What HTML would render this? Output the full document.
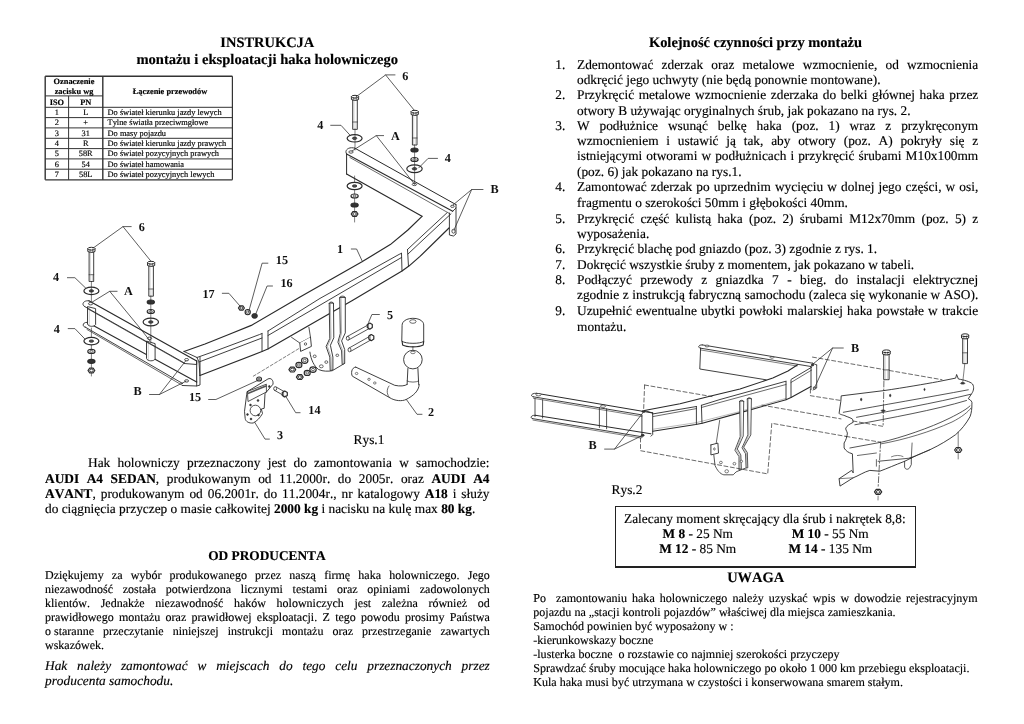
<!DOCTYPE html>
<html><head><meta charset="utf-8"><style>
html,body{margin:0;padding:0;background:#fff;}
body{width:1024px;height:724px;position:relative;overflow:hidden;font-family:"Liberation Serif",serif;color:#000;filter:grayscale(1);font-kerning:none;text-rendering:geometricPrecision;}
.t{position:absolute;white-space:nowrap;-webkit-text-stroke:0.15px #000;}
.abs{position:absolute;left:0;top:0;}
</style></head><body>
<svg class="abs" width="1024" height="724" viewBox="0 0 1024 724"><path d="M184.0,351.5 L205.0,344.0 L230.0,334.0 L251.3,325.4 L300.0,297.0 L362.0,261.7 L390.3,244.6 L407.9,230.0 L422.0,216.4" fill="none" stroke="#2a2a2a" stroke-width="1.2" stroke-linejoin="round" stroke-linecap="round"/><path d="M197.0,357.5 L218.1,350.0 L259.6,334.5 L262.0,333.5" fill="none" stroke="#2a2a2a" stroke-width="0.9" stroke-linejoin="round" stroke-linecap="round"/><path d="M268.0,331.0 L320.0,298.4 L399.1,254.4 L401.5,253.3" fill="none" stroke="#2a2a2a" stroke-width="0.9" stroke-linejoin="round" stroke-linecap="round"/><path d="M407.5,249.5 L420.0,237.8 L447.0,212.8" fill="none" stroke="#2a2a2a" stroke-width="0.9" stroke-linejoin="round" stroke-linecap="round"/><path d="M199.0,362.0 L262.0,338.0" fill="none" stroke="#2a2a2a" stroke-width="0.9" stroke-linejoin="round" stroke-linecap="round"/><path d="M268.0,335.5 L328.8,300.0 L401.5,257.5" fill="none" stroke="#2a2a2a" stroke-width="0.9" stroke-linejoin="round" stroke-linecap="round"/><path d="M408.0,254.0 L420.0,242.7 L451.0,213.8" fill="none" stroke="#2a2a2a" stroke-width="0.9" stroke-linejoin="round" stroke-linecap="round"/><path d="M199.9,375.5 L262.0,351.5 L267.9,349.0 L353.2,300.0 L402.0,271.0 L408.9,266.1 L420.0,256.4 L449.0,228.0" fill="none" stroke="#2a2a2a" stroke-width="1.2" stroke-linejoin="round" stroke-linecap="round"/><path d="M262.0,333.5 L262.0,351.5" fill="none" stroke="#2a2a2a" stroke-width="0.9" stroke-linejoin="round" stroke-linecap="round"/><path d="M268.0,331.0 L268.0,349.0" fill="none" stroke="#2a2a2a" stroke-width="0.9" stroke-linejoin="round" stroke-linecap="round"/><path d="M401.5,253.3 L402.0,271.0" fill="none" stroke="#2a2a2a" stroke-width="0.9" stroke-linejoin="round" stroke-linecap="round"/><path d="M407.5,249.5 L408.5,266.5" fill="none" stroke="#2a2a2a" stroke-width="0.9" stroke-linejoin="round" stroke-linecap="round"/><path d="M184.0,351.5 L197.0,357.5 L199.0,362.0 L199.9,375.5" fill="none" stroke="#2a2a2a" stroke-width="0.9" stroke-linejoin="round" stroke-linecap="round"/><path d="M87.3,322.3 L196.7,382.0" fill="none" stroke="#2a2a2a" stroke-width="1.1" stroke-linejoin="round" stroke-linecap="round"/><path d="M85.6,327.3 L182.6,383.5" fill="none" stroke="#2a2a2a" stroke-width="0.9" stroke-linejoin="round" stroke-linecap="round"/><path d="M87.0,329.5 L182.6,385.5" fill="none" stroke="#2a2a2a" stroke-width="0.7" stroke-linejoin="round" stroke-linecap="round"/><path d="M87.3,322.3 C82,322 82,327 85.6,327.3" fill="none" stroke="#2a2a2a" stroke-width="0.9" stroke-linejoin="round" stroke-linecap="round"/><path d="M196.7,382.0 L196.7,386.0 L182.6,385.5" fill="none" stroke="#2a2a2a" stroke-width="0.9" stroke-linejoin="round" stroke-linecap="round"/><path d="M87.5,307 L87.5,324 C88.5,327 94.5,327 95.6,324.5 L95.6,309 Z" fill="#fff" stroke="#2a2a2a" stroke-width="0.9" stroke-linejoin="round" stroke-linecap="round"/><path d="M146.5,341.5 L146.5,358.5 C147.5,361.5 154,361.5 155.1,359 L155.1,344 Z" fill="#fff" stroke="#2a2a2a" stroke-width="0.9" stroke-linejoin="round" stroke-linecap="round"/><path d="M89.3,308.0 L89.3,325.2" fill="none" stroke="#888" stroke-width="0.4" stroke-linejoin="round" stroke-linecap="round"/><path d="M148.3,342.5 L148.3,359.8" fill="none" stroke="#888" stroke-width="0.4" stroke-linejoin="round" stroke-linecap="round"/><path d="M88.9,300.8 L196.7,361.0" fill="none" stroke="#2a2a2a" stroke-width="1.2" stroke-linejoin="round" stroke-linecap="round"/><path d="M84.8,306.6 L183.5,362.5" fill="none" stroke="#2a2a2a" stroke-width="0.9" stroke-linejoin="round" stroke-linecap="round"/><path d="M88.1,309.0 L184.3,363.5" fill="none" stroke="#2a2a2a" stroke-width="0.7" stroke-linejoin="round" stroke-linecap="round"/><path d="M88.9,300.8 C83,300 81,305 84.8,306.6" fill="none" stroke="#2a2a2a" stroke-width="0.9" stroke-linejoin="round" stroke-linecap="round"/><path d="M196.7,361.0 L196.7,364.5 L184.3,363.5" fill="none" stroke="#2a2a2a" stroke-width="0.9" stroke-linejoin="round" stroke-linecap="round"/><path d="M196.7,361.0 L196.7,382.0" fill="none" stroke="#2a2a2a" stroke-width="1.0" stroke-linejoin="round" stroke-linecap="round"/><path d="M200.0,357.0 L200.0,385.0 L196.7,386.0" fill="none" stroke="#2a2a2a" stroke-width="0.9" stroke-linejoin="round" stroke-linecap="round"/><ellipse cx="186.6" cy="359.7" rx="2.0" ry="1.2" fill="#fff" stroke="#2a2a2a" stroke-width="0.8"/><ellipse cx="186.6" cy="380.9" rx="2.0" ry="1.2" fill="#fff" stroke="#2a2a2a" stroke-width="0.8"/><ellipse cx="90.6" cy="303.7" rx="2.2" ry="1.2" fill="#fff" stroke="#2a2a2a" stroke-width="0.8"/><ellipse cx="149.5" cy="338.3" rx="2.2" ry="1.2" fill="#fff" stroke="#2a2a2a" stroke-width="0.8"/><path d="M89.1,251.5 L89.1,281.5 L93.7,281.5 L93.7,251.5" fill="#fff" stroke="#2a2a2a" stroke-width="0.9" stroke-linejoin="round" stroke-linecap="round"/><path d="M87.8,248.7 L87.8,251.5 L90.1,252.3 L92.7,252.3 L95.0,251.5 L95.0,248.7" fill="#fff" stroke="#2a2a2a" stroke-width="1.0" stroke-linejoin="round" stroke-linecap="round"/><ellipse cx="91.4" cy="248.7" rx="3.6" ry="1.4" fill="#fff" stroke="#2a2a2a" stroke-width="1.0"/><path d="M90.1,249.5 L90.1,252.3" fill="none" stroke="#2a2a2a" stroke-width="0.6" stroke-linejoin="round" stroke-linecap="round"/><path d="M92.7,249.5 L92.7,252.3" fill="none" stroke="#2a2a2a" stroke-width="0.6" stroke-linejoin="round" stroke-linecap="round"/><path d="M89.1,274.7 L93.7,274.7" fill="none" stroke="#2a2a2a" stroke-width="0.7" stroke-linejoin="round" stroke-linecap="round"/><path d="M90.4,274.7 L90.4,281.5" fill="none" stroke="#888" stroke-width="0.4" stroke-linejoin="round" stroke-linecap="round"/><path d="M92.4,274.7 L92.4,281.5" fill="none" stroke="#888" stroke-width="0.4" stroke-linejoin="round" stroke-linecap="round"/><path d="M90.4,252.5 L90.4,274.7" fill="none" stroke="#999" stroke-width="0.4" stroke-linejoin="round" stroke-linecap="round"/><ellipse cx="91.4" cy="290.9" rx="7.5" ry="3.7" fill="#fff" stroke="#2a2a2a" stroke-width="1.2"/><ellipse cx="91.4" cy="290.9" rx="2.2" ry="1.2" fill="#555" stroke="#2a2a2a" stroke-width="0.8"/><path d="M91.4,281.5 L91.4,302.0" fill="none" stroke="#2a2a2a" stroke-width="0.6" stroke-linejoin="round" stroke-linecap="round"/><path d="M148.8,265.5 L148.8,296.2 L153.4,296.2 L153.4,265.5" fill="#fff" stroke="#2a2a2a" stroke-width="0.9" stroke-linejoin="round" stroke-linecap="round"/><path d="M147.5,262.7 L147.5,265.5 L149.8,266.3 L152.4,266.3 L154.7,265.5 L154.7,262.7" fill="#fff" stroke="#2a2a2a" stroke-width="1.0" stroke-linejoin="round" stroke-linecap="round"/><ellipse cx="151.1" cy="262.7" rx="3.6" ry="1.4" fill="#fff" stroke="#2a2a2a" stroke-width="1.0"/><path d="M149.8,263.5 L149.8,266.3" fill="none" stroke="#2a2a2a" stroke-width="0.6" stroke-linejoin="round" stroke-linecap="round"/><path d="M152.4,263.5 L152.4,266.3" fill="none" stroke="#2a2a2a" stroke-width="0.6" stroke-linejoin="round" stroke-linecap="round"/><path d="M148.8,289.0 L153.4,289.0" fill="none" stroke="#2a2a2a" stroke-width="0.7" stroke-linejoin="round" stroke-linecap="round"/><path d="M150.1,289.0 L150.1,296.2" fill="none" stroke="#888" stroke-width="0.4" stroke-linejoin="round" stroke-linecap="round"/><path d="M152.1,289.0 L152.1,296.2" fill="none" stroke="#888" stroke-width="0.4" stroke-linejoin="round" stroke-linecap="round"/><path d="M150.1,266.5 L150.1,289.0" fill="none" stroke="#999" stroke-width="0.4" stroke-linejoin="round" stroke-linecap="round"/><ellipse cx="150.8" cy="302.0" rx="3.6" ry="2.0" fill="#333" stroke="#2a2a2a" stroke-width="1.15"/><ellipse cx="150.8" cy="311.5" rx="3.6" ry="2.0" fill="#fff" stroke="#2a2a2a" stroke-width="1.15"/><ellipse cx="150.8" cy="311.5" rx="1.6" ry="0.9" fill="#fff" stroke="#2a2a2a" stroke-width="0.7"/><ellipse cx="150.8" cy="322.0" rx="7.7" ry="3.9" fill="#fff" stroke="#2a2a2a" stroke-width="1.2"/><ellipse cx="150.8" cy="322.0" rx="2.3" ry="1.2" fill="#555" stroke="#2a2a2a" stroke-width="0.8"/><path d="M150.8,296.0 L150.8,342.0" fill="none" stroke="#2a2a2a" stroke-width="0.6" stroke-linejoin="round" stroke-linecap="round"/><path d="M91.4,328.0 L91.4,376.0" fill="none" stroke="#2a2a2a" stroke-width="0.6" stroke-linejoin="round" stroke-linecap="round"/><ellipse cx="91.4" cy="341.1" rx="7.5" ry="3.7" fill="#fff" stroke="#2a2a2a" stroke-width="1.2"/><ellipse cx="91.4" cy="341.1" rx="2.2" ry="1.2" fill="#555" stroke="#2a2a2a" stroke-width="0.8"/><ellipse cx="91.4" cy="351.4" rx="3.6" ry="2.0" fill="#fff" stroke="#2a2a2a" stroke-width="1.15"/><ellipse cx="91.4" cy="351.4" rx="1.6" ry="0.9" fill="#fff" stroke="#2a2a2a" stroke-width="0.7"/><ellipse cx="91.4" cy="361.3" rx="3.6" ry="2.0" fill="#333" stroke="#2a2a2a" stroke-width="1.15"/><path d="M94.8,370.5 L93.1,372.9 L89.7,372.9 L88.0,370.5 L89.7,368.1 L93.1,368.1 L94.8,370.5" fill="#fff" stroke="#2a2a2a" stroke-width="1.2" stroke-linejoin="round" stroke-linecap="round"/><ellipse cx="91.4" cy="370.5" rx="1.7" ry="1.4" fill="#fff" stroke="#2a2a2a" stroke-width="0.9"/><text x="141.7" y="230.5" font-family="Liberation Serif" font-weight="bold" font-size="12.2" text-anchor="middle" fill="#111">6</text><path d="M131.2,226.6 L123.0,226.6 L93.1,248.1" fill="none" stroke="#333" stroke-width="0.8" stroke-linejoin="round" stroke-linecap="round"/><path d="M123.0,226.6 L151.1,261.4" fill="none" stroke="#333" stroke-width="0.8" stroke-linejoin="round" stroke-linecap="round"/><text x="56.1" y="281.3" font-family="Liberation Serif" font-weight="bold" font-size="12.2" text-anchor="middle" fill="#111">4</text><path d="M67.4,277.7 L74.9,277.7 L85.6,288.0" fill="none" stroke="#333" stroke-width="0.8" stroke-linejoin="round" stroke-linecap="round"/><text x="128.4" y="294.8" font-family="Liberation Serif" font-weight="bold" font-size="12.2" text-anchor="middle" fill="#111">A</text><path d="M117.1,291.3 L109.7,291.3 L92.3,302.0" fill="none" stroke="#333" stroke-width="0.8" stroke-linejoin="round" stroke-linecap="round"/><path d="M109.7,291.3 L140.4,328.6 L150.0,341.0" fill="none" stroke="#333" stroke-width="0.8" stroke-linejoin="round" stroke-linecap="round"/><text x="56.9" y="332.6" font-family="Liberation Serif" font-weight="bold" font-size="12.2" text-anchor="middle" fill="#111">4</text><path d="M68.2,328.6 L74.9,328.6 L84.8,338.9" fill="none" stroke="#333" stroke-width="0.8" stroke-linejoin="round" stroke-linecap="round"/><text x="137.6" y="395.0" font-family="Liberation Serif" font-weight="bold" font-size="12.2" text-anchor="middle" fill="#111">B</text><path d="M149.5,394.5 L159.4,394.5 L186.0,360.5" fill="none" stroke="#333" stroke-width="0.8" stroke-linejoin="round" stroke-linecap="round"/><path d="M159.4,394.5 L186.0,381.2" fill="none" stroke="#333" stroke-width="0.8" stroke-linejoin="round" stroke-linecap="round"/><path d="M354.9,148.2 L456.0,204.6" fill="none" stroke="#2a2a2a" stroke-width="1.0" stroke-linejoin="round" stroke-linecap="round"/><path d="M346.6,154.0 L452.7,211.3" fill="none" stroke="#2a2a2a" stroke-width="1.1" stroke-linejoin="round" stroke-linecap="round"/><path d="M349.9,157.5 L449.4,213.5" fill="none" stroke="#2a2a2a" stroke-width="0.7" stroke-linejoin="round" stroke-linecap="round"/><path d="M354.9,148.2 C348,146 344,151 346.6,154" fill="none" stroke="#2a2a2a" stroke-width="0.9" stroke-linejoin="round" stroke-linecap="round"/><path d="M346.6,154.0 L346.6,174.0" fill="none" stroke="#2a2a2a" stroke-width="1.0" stroke-linejoin="round" stroke-linecap="round"/><path d="M346.6,174.0 L422.0,216.2" fill="none" stroke="#2a2a2a" stroke-width="1.2" stroke-linejoin="round" stroke-linecap="round"/><path d="M456.0,204.6 L456.0,208.0 L452.7,211.3" fill="none" stroke="#2a2a2a" stroke-width="0.9" stroke-linejoin="round" stroke-linecap="round"/><path d="M449.4,213.0 L449.4,235.0 L453.5,236.0 L456.0,234.0 L456.0,208.0" fill="none" stroke="#2a2a2a" stroke-width="0.9" stroke-linejoin="round" stroke-linecap="round"/><ellipse cx="452.4" cy="206.3" rx="1.8" ry="1.1" fill="#fff" stroke="#2a2a2a" stroke-width="0.8"/><ellipse cx="453.5" cy="231.2" rx="1.6" ry="2.0" fill="#fff" stroke="#2a2a2a" stroke-width="0.8"/><ellipse cx="351.0" cy="152.0" rx="2.2" ry="1.2" fill="#fff" stroke="#2a2a2a" stroke-width="0.8"/><ellipse cx="414.4" cy="184.4" rx="2.2" ry="1.2" fill="#fff" stroke="#2a2a2a" stroke-width="0.8"/><path d="M352.7,99.5 L352.7,129.4 L357.3,129.4 L357.3,99.5" fill="#fff" stroke="#2a2a2a" stroke-width="0.9" stroke-linejoin="round" stroke-linecap="round"/><path d="M351.4,96.7 L351.4,99.5 L353.7,100.3 L356.3,100.3 L358.6,99.5 L358.6,96.7" fill="#fff" stroke="#2a2a2a" stroke-width="1.0" stroke-linejoin="round" stroke-linecap="round"/><ellipse cx="355.0" cy="96.7" rx="3.6" ry="1.4" fill="#fff" stroke="#2a2a2a" stroke-width="1.0"/><path d="M353.7,97.5 L353.7,100.3" fill="none" stroke="#2a2a2a" stroke-width="0.6" stroke-linejoin="round" stroke-linecap="round"/><path d="M356.3,97.5 L356.3,100.3" fill="none" stroke="#2a2a2a" stroke-width="0.6" stroke-linejoin="round" stroke-linecap="round"/><path d="M352.7,122.0 L357.3,122.0" fill="none" stroke="#2a2a2a" stroke-width="0.7" stroke-linejoin="round" stroke-linecap="round"/><path d="M354.0,122.0 L354.0,129.4" fill="none" stroke="#888" stroke-width="0.4" stroke-linejoin="round" stroke-linecap="round"/><path d="M356.0,122.0 L356.0,129.4" fill="none" stroke="#888" stroke-width="0.4" stroke-linejoin="round" stroke-linecap="round"/><path d="M354.0,100.5 L354.0,122.0" fill="none" stroke="#999" stroke-width="0.4" stroke-linejoin="round" stroke-linecap="round"/><ellipse cx="354.6" cy="138.3" rx="7.5" ry="3.7" fill="#fff" stroke="#2a2a2a" stroke-width="1.2"/><ellipse cx="354.6" cy="138.3" rx="2.2" ry="1.2" fill="#555" stroke="#2a2a2a" stroke-width="0.8"/><path d="M355.0,129.0 L355.0,150.0" fill="none" stroke="#2a2a2a" stroke-width="0.6" stroke-linejoin="round" stroke-linecap="round"/><path d="M412.4,114.5 L412.4,145.0 L417.0,145.0 L417.0,114.5" fill="#fff" stroke="#2a2a2a" stroke-width="0.9" stroke-linejoin="round" stroke-linecap="round"/><path d="M411.1,111.7 L411.1,114.5 L413.4,115.3 L416.0,115.3 L418.3,114.5 L418.3,111.7" fill="#fff" stroke="#2a2a2a" stroke-width="1.0" stroke-linejoin="round" stroke-linecap="round"/><ellipse cx="414.7" cy="111.7" rx="3.6" ry="1.4" fill="#fff" stroke="#2a2a2a" stroke-width="1.0"/><path d="M413.4,112.5 L413.4,115.3" fill="none" stroke="#2a2a2a" stroke-width="0.6" stroke-linejoin="round" stroke-linecap="round"/><path d="M416.0,112.5 L416.0,115.3" fill="none" stroke="#2a2a2a" stroke-width="0.6" stroke-linejoin="round" stroke-linecap="round"/><path d="M412.4,138.0 L417.0,138.0" fill="none" stroke="#2a2a2a" stroke-width="0.7" stroke-linejoin="round" stroke-linecap="round"/><path d="M413.7,138.0 L413.7,145.0" fill="none" stroke="#888" stroke-width="0.4" stroke-linejoin="round" stroke-linecap="round"/><path d="M415.7,138.0 L415.7,145.0" fill="none" stroke="#888" stroke-width="0.4" stroke-linejoin="round" stroke-linecap="round"/><path d="M413.7,115.5 L413.7,138.0" fill="none" stroke="#999" stroke-width="0.4" stroke-linejoin="round" stroke-linecap="round"/><ellipse cx="414.5" cy="150.0" rx="3.6" ry="2.0" fill="#333" stroke="#2a2a2a" stroke-width="1.15"/><ellipse cx="414.5" cy="159.5" rx="3.6" ry="2.0" fill="#fff" stroke="#2a2a2a" stroke-width="1.15"/><ellipse cx="414.5" cy="159.5" rx="1.6" ry="0.9" fill="#fff" stroke="#2a2a2a" stroke-width="0.7"/><ellipse cx="414.5" cy="168.8" rx="7.7" ry="3.9" fill="#fff" stroke="#2a2a2a" stroke-width="1.2"/><ellipse cx="414.5" cy="168.8" rx="2.3" ry="1.2" fill="#555" stroke="#2a2a2a" stroke-width="0.8"/><path d="M414.6,145.0 L414.6,184.0" fill="none" stroke="#2a2a2a" stroke-width="0.6" stroke-linejoin="round" stroke-linecap="round"/><path d="M354.6,176.0 L354.6,222.0" fill="none" stroke="#2a2a2a" stroke-width="0.6" stroke-linejoin="round" stroke-linecap="round"/><ellipse cx="354.6" cy="186.0" rx="7.5" ry="3.7" fill="#fff" stroke="#2a2a2a" stroke-width="1.2"/><ellipse cx="354.6" cy="186.0" rx="2.2" ry="1.2" fill="#555" stroke="#2a2a2a" stroke-width="0.8"/><ellipse cx="354.6" cy="196.0" rx="3.6" ry="2.0" fill="#fff" stroke="#2a2a2a" stroke-width="1.15"/><ellipse cx="354.6" cy="196.0" rx="1.6" ry="0.9" fill="#fff" stroke="#2a2a2a" stroke-width="0.7"/><ellipse cx="354.6" cy="205.0" rx="3.6" ry="2.0" fill="#333" stroke="#2a2a2a" stroke-width="1.15"/><path d="M358.0,214.0 L356.3,216.4 L352.9,216.4 L351.2,214.0 L352.9,211.6 L356.3,211.6 L358.0,214.0" fill="#fff" stroke="#2a2a2a" stroke-width="1.2" stroke-linejoin="round" stroke-linecap="round"/><ellipse cx="354.6" cy="214.0" rx="1.7" ry="1.4" fill="#fff" stroke="#2a2a2a" stroke-width="0.9"/><text x="405.3" y="79.7" font-family="Liberation Serif" font-weight="bold" font-size="12.2" text-anchor="middle" fill="#111">6</text><path d="M395.0,74.9 L385.6,74.9 L356.0,96.9" fill="none" stroke="#333" stroke-width="0.8" stroke-linejoin="round" stroke-linecap="round"/><path d="M385.6,74.9 L414.7,110.8" fill="none" stroke="#333" stroke-width="0.8" stroke-linejoin="round" stroke-linecap="round"/><text x="320.2" y="128.9" font-family="Liberation Serif" font-weight="bold" font-size="12.2" text-anchor="middle" fill="#111">4</text><path d="M330.7,125.3 L341.0,125.3 L350.4,135.6" fill="none" stroke="#333" stroke-width="0.8" stroke-linejoin="round" stroke-linecap="round"/><text x="395.4" y="139.6" font-family="Liberation Serif" font-weight="bold" font-size="12.2" text-anchor="middle" fill="#111">A</text><path d="M383.6,135.6 L376.3,135.6 L352.0,151.0" fill="none" stroke="#333" stroke-width="0.8" stroke-linejoin="round" stroke-linecap="round"/><path d="M376.3,135.6 L414.7,184.4" fill="none" stroke="#333" stroke-width="0.8" stroke-linejoin="round" stroke-linecap="round"/><text x="447.7" y="162.2" font-family="Liberation Serif" font-weight="bold" font-size="12.2" text-anchor="middle" fill="#111">4</text><path d="M437.5,158.4 L428.1,158.4 L418.8,167.8" fill="none" stroke="#333" stroke-width="0.8" stroke-linejoin="round" stroke-linecap="round"/><text x="494.5" y="193.2" font-family="Liberation Serif" font-weight="bold" font-size="12.2" text-anchor="middle" fill="#111">B</text><path d="M483.0,189.5 L471.7,189.5 L453.0,205.0" fill="none" stroke="#333" stroke-width="0.8" stroke-linejoin="round" stroke-linecap="round"/><path d="M471.7,189.5 L454.0,230.0" fill="none" stroke="#333" stroke-width="0.8" stroke-linejoin="round" stroke-linecap="round"/><text x="340.0" y="253.4" font-family="Liberation Serif" font-weight="bold" font-size="12.2" text-anchor="middle" fill="#111">1</text><path d="M351.3,249.0 L356.6,249.0 L362.5,261.7" fill="none" stroke="#333" stroke-width="0.8" stroke-linejoin="round" stroke-linecap="round"/><path d="M244.4,308.0 L242.9,310.1 L239.9,310.1 L238.4,308.0 L239.9,305.9 L242.9,305.9 L244.4,308.0" fill="#fff" stroke="#2a2a2a" stroke-width="1.2" stroke-linejoin="round" stroke-linecap="round"/><ellipse cx="241.4" cy="308.0" rx="1.5" ry="1.2" fill="#fff" stroke="#2a2a2a" stroke-width="0.9"/><ellipse cx="247.7" cy="312.1" rx="2.6" ry="2.6" fill="#fff" stroke="#2a2a2a" stroke-width="1.15"/><ellipse cx="247.7" cy="312.1" rx="1.2" ry="1.2" fill="#fff" stroke="#2a2a2a" stroke-width="0.7"/><ellipse cx="254.6" cy="315.9" rx="2.8" ry="2.4" fill="#333" stroke="#2a2a2a" stroke-width="0.9"/><text x="281.9" y="263.8" font-family="Liberation Serif" font-weight="bold" font-size="12.2" text-anchor="middle" fill="#111">15</text><path d="M267.9,263.2 L262.1,263.2 L248.8,311.3" fill="none" stroke="#333" stroke-width="0.8" stroke-linejoin="round" stroke-linecap="round"/><text x="286.5" y="286.9" font-family="Liberation Serif" font-weight="bold" font-size="12.2" text-anchor="middle" fill="#111">16</text><path d="M272.5,286.0 L267.1,286.0 L255.5,314.6" fill="none" stroke="#333" stroke-width="0.8" stroke-linejoin="round" stroke-linecap="round"/><text x="208.6" y="297.7" font-family="Liberation Serif" font-weight="bold" font-size="12.2" text-anchor="middle" fill="#111">17</text><path d="M222.3,293.3 L228.9,293.3 L240.5,306.6" fill="none" stroke="#333" stroke-width="0.8" stroke-linejoin="round" stroke-linecap="round"/><path d="M309.9,352.1 C311,360 314,366 318.6,369.5 C323,371.5 328,371.5 332.3,370.7 L344.7,363.3" fill="none" stroke="#2a2a2a" stroke-width="0.9" stroke-linejoin="round" stroke-linecap="round"/><path d="M329.2,303.5 L329.8,338.4 L326.1,346.5 L329.8,357.1 L330.2,370.5 L332.9,370.0 L332.9,357.1 L330.4,345.3 L333.8,337.8 L333.5,303.5 Z" fill="#fff" stroke="#2a2a2a" stroke-width="0.9" stroke-linejoin="round" stroke-linecap="round"/><path d="M329.2,303.5 C329.5,301.5 333.2,301.5 333.5,303.5" fill="none" stroke="#2a2a2a" stroke-width="0.9" stroke-linejoin="round" stroke-linecap="round"/><path d="M330.4,304.0 L331.0,338.2 L327.4,346.4 L331.0,357.0 L331.4,369.5" fill="none" stroke="#666" stroke-width="0.5" stroke-linejoin="round" stroke-linecap="round"/><path d="M339.7,297.8 L340.3,333.5 L337.9,342.2 L341.6,350.9 L342.2,364.5 L344.7,363.3 L344.7,349.6 L341.6,340.9 L345.3,332.9 L345.3,297.8 Z" fill="#fff" stroke="#2a2a2a" stroke-width="0.9" stroke-linejoin="round" stroke-linecap="round"/><path d="M339.7,297.8 C340,295.5 345,295.5 345.3,297.8" fill="none" stroke="#2a2a2a" stroke-width="0.9" stroke-linejoin="round" stroke-linecap="round"/><path d="M341.0,298.5 L341.5,333.3 L339.2,342.0 L342.8,350.7 L343.3,363.8" fill="none" stroke="#666" stroke-width="0.5" stroke-linejoin="round" stroke-linecap="round"/><ellipse cx="321.3" cy="366.3" rx="1.9" ry="1.5" fill="#fff" stroke="#2a2a2a" stroke-width="0.7"/><ellipse cx="326.3" cy="362.1" rx="1.5" ry="1.3" fill="#fff" stroke="#2a2a2a" stroke-width="0.7"/><ellipse cx="314.7" cy="356.3" rx="1.5" ry="1.3" fill="#fff" stroke="#2a2a2a" stroke-width="0.7"/><ellipse cx="337.3" cy="355.3" rx="1.4" ry="1.2" fill="#fff" stroke="#2a2a2a" stroke-width="0.7"/><path d="M291.5,337.3 L299.8,343.0 L310.5,337.3 L308.9,327.3" fill="none" stroke="#2a2a2a" stroke-width="0.8" stroke-linejoin="round" stroke-linecap="round"/><path d="M299.8,343.0 L300.6,351.4 L311.4,346.4 L310.5,337.3" fill="#fff" stroke="#2a2a2a" stroke-width="0.9" stroke-linejoin="round" stroke-linecap="round"/><ellipse cx="305.5" cy="344.0" rx="1.2" ry="1.2" fill="#fff" stroke="#2a2a2a" stroke-width="0.7"/><path d="M295.7,369.6 L294.0,372.0 L290.6,372.0 L288.9,369.6 L290.6,367.2 L294.0,367.2 L295.7,369.6" fill="#fff" stroke="#2a2a2a" stroke-width="1.2" stroke-linejoin="round" stroke-linecap="round"/><ellipse cx="292.3" cy="369.6" rx="1.7" ry="1.4" fill="#fff" stroke="#2a2a2a" stroke-width="0.9"/><ellipse cx="298.9" cy="365.0" rx="3.0" ry="2.6" fill="#fff" stroke="#2a2a2a" stroke-width="1.15"/><ellipse cx="298.9" cy="365.0" rx="1.4" ry="1.2" fill="#fff" stroke="#2a2a2a" stroke-width="0.7"/><ellipse cx="304.7" cy="360.5" rx="3.2" ry="2.8" fill="#fff" stroke="#2a2a2a" stroke-width="1.15"/><ellipse cx="304.7" cy="360.5" rx="1.4" ry="1.3" fill="#fff" stroke="#2a2a2a" stroke-width="0.7"/><path d="M303.2,377.1 L301.5,379.5 L298.1,379.5 L296.4,377.1 L298.1,374.7 L301.5,374.7 L303.2,377.1" fill="#fff" stroke="#2a2a2a" stroke-width="1.2" stroke-linejoin="round" stroke-linecap="round"/><ellipse cx="299.8" cy="377.1" rx="1.7" ry="1.4" fill="#fff" stroke="#2a2a2a" stroke-width="0.9"/><ellipse cx="307.2" cy="372.9" rx="3.0" ry="2.6" fill="#fff" stroke="#2a2a2a" stroke-width="1.15"/><ellipse cx="307.2" cy="372.9" rx="1.4" ry="1.2" fill="#fff" stroke="#2a2a2a" stroke-width="0.7"/><ellipse cx="313.0" cy="369.6" rx="3.2" ry="2.8" fill="#fff" stroke="#2a2a2a" stroke-width="1.15"/><ellipse cx="313.0" cy="369.6" rx="1.4" ry="1.3" fill="#fff" stroke="#2a2a2a" stroke-width="0.7"/><path d="M348.7,339.9 L369.4,328.4" fill="none" stroke="#2a2a2a" stroke-width="0.8" stroke-linejoin="round" stroke-linecap="round"/><path d="M346.9,336.7 L367.6,325.2" fill="none" stroke="#2a2a2a" stroke-width="0.8" stroke-linejoin="round" stroke-linecap="round"/><ellipse cx="347.8" cy="338.3" rx="1.5" ry="1.9" fill="#fff" stroke="#2a2a2a" stroke-width="0.8"/><path d="M372.3,327.6 L369.8,329.2 L367.3,327.6 L367.3,324.5 L369.8,323.0 L372.3,324.5 L372.3,327.6" fill="#fff" stroke="#2a2a2a" stroke-width="1.2" stroke-linejoin="round" stroke-linecap="round"/><path d="M368.6,323.3 L368.6,328.9" fill="none" stroke="#2a2a2a" stroke-width="0.6" stroke-linejoin="round" stroke-linecap="round"/><path d="M350.4,351.5 L370.9,339.9" fill="none" stroke="#2a2a2a" stroke-width="0.8" stroke-linejoin="round" stroke-linecap="round"/><path d="M348.6,348.3 L369.1,336.7" fill="none" stroke="#2a2a2a" stroke-width="0.8" stroke-linejoin="round" stroke-linecap="round"/><ellipse cx="349.5" cy="349.9" rx="1.5" ry="1.9" fill="#fff" stroke="#2a2a2a" stroke-width="0.8"/><path d="M373.8,339.1 L371.3,340.7 L368.8,339.1 L368.8,336.0 L371.3,334.5 L373.8,336.0 L373.8,339.1" fill="#fff" stroke="#2a2a2a" stroke-width="1.2" stroke-linejoin="round" stroke-linecap="round"/><path d="M370.1,334.8 L370.1,340.4" fill="none" stroke="#2a2a2a" stroke-width="0.6" stroke-linejoin="round" stroke-linecap="round"/><text x="390.1" y="319.0" font-family="Liberation Serif" font-weight="bold" font-size="12.2" text-anchor="middle" fill="#111">5</text><path d="M379.4,314.5 L371.9,314.5 L368.6,322.3" fill="none" stroke="#333" stroke-width="0.8" stroke-linejoin="round" stroke-linecap="round"/><path d="M253.3,376.2 L299.8,348.0" fill="none" stroke="#2a2a2a" stroke-width="0.6" stroke-dasharray="3,2" stroke-linejoin="round" stroke-linecap="round"/><path d="M402.1,325 C402,316 423.7,316 423.7,325 L423.7,341.4 C420,344 406,344 402.1,341.4 Z" fill="#fff" stroke="#2a2a2a" stroke-width="0.9" stroke-linejoin="round" stroke-linecap="round"/><ellipse cx="412.9" cy="321.5" rx="3.2" ry="1.8" fill="#fff" stroke="#2a2a2a" stroke-width="0.7"/><path d="M402.1,341.4 L402.6,345 C407,347.5 419,347.5 423.2,345 L423.7,341.4" fill="none" stroke="#2a2a2a" stroke-width="1.1" stroke-linejoin="round" stroke-linecap="round"/><path d="M412.9,346.4 L412.9,351.0" fill="none" stroke="#2a2a2a" stroke-width="0.6" stroke-linejoin="round" stroke-linecap="round"/><circle cx="412.9" cy="359.6" r="9.3" fill="#fff" stroke="#2a2a2a" stroke-width="0.9"/><ellipse cx="412.9" cy="352.5" rx="2.2" ry="1.2" fill="#fff" stroke="#2a2a2a" stroke-width="0.6"/><path d="M407.9,368.5 L407.1,384.5 M417.9,368.5 L418.7,384.5" fill="none" stroke="#2a2a2a" stroke-width="0.9" stroke-linejoin="round" stroke-linecap="round"/><path d="M407.1,381 C410,382.5 416,382.5 418.7,381" fill="none" stroke="#2a2a2a" stroke-width="0.7" stroke-linejoin="round" stroke-linecap="round"/><path d="M355.7,367.1 L394.7,385.3 C400,386.5 405,386 407.1,384.5" fill="none" stroke="#2a2a2a" stroke-width="0.9" stroke-linejoin="round" stroke-linecap="round"/><path d="M355.7,367.1 C351,367.5 351,374 352.4,376.2 L389.7,397.7 C395,401 402,401.5 406.3,399.4 C413,396 419,391 419.2,384.5" fill="none" stroke="#2a2a2a" stroke-width="0.9" stroke-linejoin="round" stroke-linecap="round"/><path d="M389,386 C386,390 387,395 389.7,397.7" fill="none" stroke="#2a2a2a" stroke-width="0.7" stroke-linejoin="round" stroke-linecap="round"/><ellipse cx="356.6" cy="373.5" rx="1.3" ry="1.1" fill="#fff" stroke="#2a2a2a" stroke-width="0.6"/><ellipse cx="369.0" cy="379.3" rx="1.3" ry="1.1" fill="#fff" stroke="#2a2a2a" stroke-width="0.6"/><ellipse cx="374.8" cy="383.0" rx="1.3" ry="1.1" fill="#fff" stroke="#2a2a2a" stroke-width="0.6"/><text x="431.1" y="415.5" font-family="Liberation Serif" font-weight="bold" font-size="12.2" text-anchor="middle" fill="#111">2</text><path d="M422.0,414.3 L417.0,414.3 L406.3,399.4" fill="none" stroke="#333" stroke-width="0.8" stroke-linejoin="round" stroke-linecap="round"/><path d="M247.4,391.5 L267.9,379 C271,377.5 273.5,380 273,384.2 L265,393.7 L264.2,408.3 L261.3,409 L262.5,413.5 C260,418 257,421 253.2,423 C249,423.5 245.5,421.5 245.2,418.5 L244.5,411.3 L246.6,395.2 Z" fill="#fff" stroke="#2a2a2a" stroke-width="0.9" stroke-linejoin="round" stroke-linecap="round"/><path d="M247.4,391.5 L266.4,384.2 L266.4,392.0 L248.0,401.5 L247.4,391.5" fill="none" stroke="#2a2a2a" stroke-width="0.8" stroke-linejoin="round" stroke-linecap="round"/><path d="M247.8,393.5 L266.0,386.0" fill="none" stroke="#555" stroke-width="1.6" stroke-linejoin="round" stroke-linecap="round"/><circle cx="255.4" cy="410.5" r="5.3" fill="#fff" stroke="#2a2a2a" stroke-width="0.8"/><ellipse cx="269.3" cy="386.5" rx="0.9" ry="0.9" fill="#333" stroke="#2a2a2a" stroke-width="0.6"/><ellipse cx="258.0" cy="400.5" rx="0.9" ry="0.9" fill="#333" stroke="#2a2a2a" stroke-width="0.6"/><ellipse cx="250.5" cy="405.0" rx="0.9" ry="0.9" fill="#333" stroke="#2a2a2a" stroke-width="0.6"/><ellipse cx="247.5" cy="414.5" rx="0.9" ry="0.9" fill="#333" stroke="#2a2a2a" stroke-width="0.6"/><ellipse cx="251.0" cy="419.0" rx="0.9" ry="0.9" fill="#333" stroke="#2a2a2a" stroke-width="0.6"/><ellipse cx="258.5" cy="415.0" rx="0.9" ry="0.9" fill="#333" stroke="#2a2a2a" stroke-width="0.6"/><text x="280.0" y="439.1" font-family="Liberation Serif" font-weight="bold" font-size="12.2" text-anchor="middle" fill="#111">3</text><path d="M269.4,439.1 L265.0,439.1 L254.7,422.3" fill="none" stroke="#333" stroke-width="0.8" stroke-linejoin="round" stroke-linecap="round"/><ellipse cx="259.1" cy="379.0" rx="2.4" ry="2.0" fill="#fff" stroke="#2a2a2a" stroke-width="1.15"/><ellipse cx="259.1" cy="379.0" rx="1.1" ry="0.9" fill="#fff" stroke="#2a2a2a" stroke-width="0.7"/><text x="195.0" y="400.7" font-family="Liberation Serif" font-weight="bold" font-size="12.2" text-anchor="middle" fill="#111">15</text><path d="M208.6,399.5 L215.9,399.5 L257.6,380.5" fill="none" stroke="#333" stroke-width="0.8" stroke-linejoin="round" stroke-linecap="round"/><path d="M274.3,390.2 L282.6,394.9" fill="none" stroke="#2a2a2a" stroke-width="0.8" stroke-linejoin="round" stroke-linecap="round"/><path d="M276.1,387.0 L284.4,391.7" fill="none" stroke="#2a2a2a" stroke-width="0.8" stroke-linejoin="round" stroke-linecap="round"/><ellipse cx="275.2" cy="388.6" rx="1.5" ry="1.9" fill="#fff" stroke="#2a2a2a" stroke-width="0.8"/><path d="M287.3,395.6 L284.8,397.1 L282.3,395.6 L282.3,392.5 L284.8,390.9 L287.3,392.5 L287.3,395.6" fill="#fff" stroke="#2a2a2a" stroke-width="1.2" stroke-linejoin="round" stroke-linecap="round"/><path d="M283.6,391.2 L283.6,396.8" fill="none" stroke="#2a2a2a" stroke-width="0.6" stroke-linejoin="round" stroke-linecap="round"/><text x="314.4" y="413.5" font-family="Liberation Serif" font-weight="bold" font-size="12.2" text-anchor="middle" fill="#111">14</text><path d="M300.1,412.7 L295.7,412.7 L285.5,395.9" fill="none" stroke="#333" stroke-width="0.8" stroke-linejoin="round" stroke-linecap="round"/><path d="M536.6,393.3 L652.7,413.0" fill="none" stroke="#2a2a2a" stroke-width="1.0" stroke-linejoin="round" stroke-linecap="round"/><path d="M533.3,396.8 L641.9,414.9" fill="none" stroke="#2a2a2a" stroke-width="0.9" stroke-linejoin="round" stroke-linecap="round"/><path d="M533.5,398.3 L641.9,416.5" fill="none" stroke="#2a2a2a" stroke-width="0.6" stroke-linejoin="round" stroke-linecap="round"/><path d="M536.6,393.3 C531,392.8 530,396.5 533.3,396.8" fill="none" stroke="#2a2a2a" stroke-width="0.9" stroke-linejoin="round" stroke-linecap="round"/><path d="M535.5,415.3 L651.0,433.8" fill="none" stroke="#2a2a2a" stroke-width="1.0" stroke-linejoin="round" stroke-linecap="round"/><path d="M532.4,418.6 L641.0,436.6" fill="none" stroke="#2a2a2a" stroke-width="0.9" stroke-linejoin="round" stroke-linecap="round"/><path d="M533.0,420.1 L641.0,438.1" fill="none" stroke="#2a2a2a" stroke-width="0.6" stroke-linejoin="round" stroke-linecap="round"/><path d="M535.5,415.3 C530.5,414.8 530,418.3 532.4,418.6" fill="none" stroke="#2a2a2a" stroke-width="0.9" stroke-linejoin="round" stroke-linecap="round"/><path d="M535.0,398.5 L535.0,416.5" fill="none" stroke="#2a2a2a" stroke-width="0.8" stroke-linejoin="round" stroke-linecap="round"/><path d="M542.6,399.8 L542.6,418.0" fill="none" stroke="#2a2a2a" stroke-width="0.8" stroke-linejoin="round" stroke-linecap="round"/><path d="M599.4,407.5 L599.4,427.5" fill="none" stroke="#2a2a2a" stroke-width="0.8" stroke-linejoin="round" stroke-linecap="round"/><path d="M606.6,408.8 L606.6,428.8" fill="none" stroke="#2a2a2a" stroke-width="0.8" stroke-linejoin="round" stroke-linecap="round"/><ellipse cx="538.5" cy="394.7" rx="2.6" ry="1.2" fill="#fff" stroke="#2a2a2a" stroke-width="0.7"/><ellipse cx="603.0" cy="406.2" rx="2.6" ry="1.2" fill="#fff" stroke="#2a2a2a" stroke-width="0.7"/><path d="M641.9,415.4 L641.9,437.5" fill="none" stroke="#2a2a2a" stroke-width="0.9" stroke-linejoin="round" stroke-linecap="round"/><path d="M652.7,413.0 L652.7,434.5 L651.0,436.2" fill="none" stroke="#2a2a2a" stroke-width="0.9" stroke-linejoin="round" stroke-linecap="round"/><path d="M644.4,410.5 L652.7,413.0" fill="none" stroke="#2a2a2a" stroke-width="0.9" stroke-linejoin="round" stroke-linecap="round"/><ellipse cx="643.5" cy="411.5" rx="1.5" ry="1.0" fill="#333" stroke="#2a2a2a" stroke-width="0.8"/><ellipse cx="642.7" cy="435.3" rx="1.5" ry="1.0" fill="#333" stroke="#2a2a2a" stroke-width="0.8"/><path d="M644.4,410.5 L680.0,403.8 L709.8,396.3 L740.0,389.0 L772.8,378.1 L788.0,371.0 L797.6,364.8" fill="none" stroke="#2a2a2a" stroke-width="1.1" stroke-linejoin="round" stroke-linecap="round"/><path d="M652.4,414.0 L696.4,406.5" fill="none" stroke="#2a2a2a" stroke-width="0.9" stroke-linejoin="round" stroke-linecap="round"/><path d="M701.4,405.3 L720.0,399.5 L786.0,381.2" fill="none" stroke="#2a2a2a" stroke-width="0.9" stroke-linejoin="round" stroke-linecap="round"/><path d="M791.0,379.5 L811.7,367.2" fill="none" stroke="#2a2a2a" stroke-width="0.9" stroke-linejoin="round" stroke-linecap="round"/><path d="M653.3,416.5 L696.4,408.6" fill="none" stroke="#2a2a2a" stroke-width="0.7" stroke-linejoin="round" stroke-linecap="round"/><path d="M701.4,407.5 L720.0,402.4 L786.0,384.5" fill="none" stroke="#2a2a2a" stroke-width="0.7" stroke-linejoin="round" stroke-linecap="round"/><path d="M791.0,382.5 L811.7,370.0" fill="none" stroke="#2a2a2a" stroke-width="0.7" stroke-linejoin="round" stroke-linecap="round"/><path d="M653.3,429.2 L696.4,422.6 L739.6,411.6 L786.0,398.4" fill="none" stroke="#777" stroke-width="0.5" stroke-linejoin="round" stroke-linecap="round"/><path d="M652.7,431.2 L695.7,424.5 L702.3,423.3 L739.6,412.9 L786.0,399.7 L791.0,397.5 L811.0,386.4" fill="none" stroke="#2a2a2a" stroke-width="1.1" stroke-linejoin="round" stroke-linecap="round"/><path d="M696.4,406.5 L696.4,424.2" fill="none" stroke="#2a2a2a" stroke-width="0.9" stroke-linejoin="round" stroke-linecap="round"/><path d="M701.4,405.3 L702.0,423.3" fill="none" stroke="#2a2a2a" stroke-width="0.9" stroke-linejoin="round" stroke-linecap="round"/><path d="M786.0,381.5 L786.0,399.7" fill="none" stroke="#2a2a2a" stroke-width="0.9" stroke-linejoin="round" stroke-linecap="round"/><path d="M791.0,380.5 L791.0,397.5" fill="none" stroke="#2a2a2a" stroke-width="0.9" stroke-linejoin="round" stroke-linecap="round"/><path d="M702.3,344.9 L812.6,363.2" fill="none" stroke="#2a2a2a" stroke-width="0.9" stroke-linejoin="round" stroke-linecap="round"/><path d="M700.6,348.2 L810.9,366.5" fill="none" stroke="#2a2a2a" stroke-width="0.9" stroke-linejoin="round" stroke-linecap="round"/><path d="M701.0,350.0 L797.0,366.0" fill="none" stroke="#2a2a2a" stroke-width="0.6" stroke-linejoin="round" stroke-linecap="round"/><path d="M702.3,344.9 C698,344.5 697.5,348 700.6,348.2" fill="none" stroke="#2a2a2a" stroke-width="0.9" stroke-linejoin="round" stroke-linecap="round"/><path d="M700.6,348.2 L699.8,369.0 L766.1,379.8" fill="none" stroke="#2a2a2a" stroke-width="0.9" stroke-linejoin="round" stroke-linecap="round"/><path d="M811.0,366.5 L811.0,389.7" fill="none" stroke="#2a2a2a" stroke-width="0.9" stroke-linejoin="round" stroke-linecap="round"/><path d="M816.7,365.0 L816.7,388.0 L813.0,390.0" fill="none" stroke="#2a2a2a" stroke-width="0.8" stroke-linejoin="round" stroke-linecap="round"/><path d="M812.6,363.2 L816.7,365.0" fill="none" stroke="#2a2a2a" stroke-width="0.8" stroke-linejoin="round" stroke-linecap="round"/><ellipse cx="707.0" cy="346.0" rx="2.0" ry="0.9" fill="#fff" stroke="#2a2a2a" stroke-width="0.7"/><ellipse cx="772.0" cy="357.3" rx="2.0" ry="0.9" fill="#fff" stroke="#2a2a2a" stroke-width="0.7"/><ellipse cx="812.5" cy="365.0" rx="1.3" ry="0.9" fill="#333" stroke="#2a2a2a" stroke-width="0.8"/><ellipse cx="814.5" cy="388.0" rx="1.3" ry="1.2" fill="#fff" stroke="#2a2a2a" stroke-width="0.8"/><path d="M713.8,454.9 L715,465.4 C717,470 720,474 723.8,474.8 L733.2,474.8 L736.1,471.9 L740.2,470.1 L746.5,467.8" fill="none" stroke="#2a2a2a" stroke-width="0.8" stroke-linejoin="round" stroke-linecap="round"/><path d="M739.6,401.5 L740.2,436.7 L734.9,450.2 L739.0,456.6 L739.0,470.1 L741.4,469.5 L740.8,454.9 L737.3,449.0 L743.2,436.1 L743.7,401.5 Z" fill="#fff" stroke="#2a2a2a" stroke-width="0.8" stroke-linejoin="round" stroke-linecap="round"/><path d="M739.6,401.5 C739.8,399.8 743.5,399.8 743.7,401.5" fill="none" stroke="#2a2a2a" stroke-width="0.8" stroke-linejoin="round" stroke-linecap="round"/><path d="M740.7,402.0 L741.3,436.5 L736.2,449.8 L740.1,456.2 L740.1,469.5" fill="none" stroke="#666" stroke-width="0.45" stroke-linejoin="round" stroke-linecap="round"/><path d="M747.3,399.0 L747.9,434.9 L742.0,447.8 L745.5,453.7 L746.1,467.8 L747.8,467.8 L747.3,452.5 L743.7,447.2 L750.8,434.9 L751.4,399.0 Z" fill="#fff" stroke="#2a2a2a" stroke-width="0.8" stroke-linejoin="round" stroke-linecap="round"/><path d="M747.3,399 C747.5,397.2 751.2,397.2 751.4,399" fill="none" stroke="#2a2a2a" stroke-width="0.8" stroke-linejoin="round" stroke-linecap="round"/><path d="M748.4,399.5 L749.0,434.7 L743.2,447.6 L746.6,453.5 L747.0,467.5" fill="none" stroke="#666" stroke-width="0.45" stroke-linejoin="round" stroke-linecap="round"/><ellipse cx="720.9" cy="462.5" rx="1.4" ry="1.3" fill="#fff" stroke="#2a2a2a" stroke-width="0.6"/><ellipse cx="734.4" cy="463.7" rx="1.4" ry="1.3" fill="#fff" stroke="#2a2a2a" stroke-width="0.6"/><ellipse cx="726.7" cy="471.3" rx="1.8" ry="1.6" fill="#fff" stroke="#2a2a2a" stroke-width="0.6"/><ellipse cx="741.4" cy="461.3" rx="1.2" ry="1.1" fill="#fff" stroke="#2a2a2a" stroke-width="0.6"/><path d="M710.9,444.9 L717.9,443.1 L718.5,453.1 L710.9,454.9 L710.9,444.9" fill="#fff" stroke="#2a2a2a" stroke-width="0.9" stroke-linejoin="round" stroke-linecap="round"/><ellipse cx="714.4" cy="449.0" rx="0.8" ry="1.2" fill="#fff" stroke="#2a2a2a" stroke-width="0.6"/><path d="M716.2,443.3 L719.7,420.2" fill="none" stroke="#2a2a2a" stroke-width="0.7" stroke-linejoin="round" stroke-linecap="round"/><text x="592.5" y="449.4" font-family="Liberation Serif" font-weight="bold" font-size="12.2" text-anchor="middle" fill="#111">B</text><path d="M604.6,449.1 L614.5,449.1 L642.7,413.0" fill="none" stroke="#333" stroke-width="0.8" stroke-linejoin="round" stroke-linecap="round"/><path d="M614.5,449.1 L642.7,435.3" fill="none" stroke="#333" stroke-width="0.8" stroke-linejoin="round" stroke-linecap="round"/><text x="855.0" y="351.9" font-family="Liberation Serif" font-weight="bold" font-size="12.2" text-anchor="middle" fill="#111">B</text><path d="M843.3,348.0 L832.6,348.0 L813.0,364.0" fill="none" stroke="#333" stroke-width="0.8" stroke-linejoin="round" stroke-linecap="round"/><path d="M832.6,348.0 L814.5,388.0" fill="none" stroke="#333" stroke-width="0.8" stroke-linejoin="round" stroke-linecap="round"/><path d="M841.6,395.8 L883.9,390.6 C905,387.5 925,384 937.7,381.7 L955.7,378.1 L956.6,374.5 L958.4,379 C964,380 970,381.5 972.5,384 C974.5,387 973.5,391 971.9,393.3 L968.3,398.7 C971,400 972.5,402 971.9,404.1 C972,408 971.5,413 970,416.7 C966,424 961,430 955.7,434.6 C948,440 940,445 930,449.7 C922,453 913,457 904.6,461.3 C895,465 887,468.5 879.8,471.2 L869.8,470.4 C864,472 858,476 853.2,477.8 L840,486.1 L839.1,478.7 L851.6,470.4 L853.2,472.9 L852.4,453.8 C848,452.5 846,451 844.1,448 L844.1,443 C846,440 847,437 847.4,433.1 C846.5,430.5 845.5,429.5 845.8,428.1 C847,425.5 850,424 853.2,422.3 C853,420 852.5,419.5 852.4,419 C849,417 846,416.5 844.9,415.7 C841,414.5 839,414 839.1,413.2 L840.8,401.6 Z" fill="#fff" stroke="#2a2a2a" stroke-width="0.9" stroke-linejoin="round" stroke-linecap="round"/><path d="M843.3,412.3 C880,405.5 930,397 968.3,389.8" fill="none" stroke="#2a2a2a" stroke-width="0.8" stroke-linejoin="round" stroke-linecap="round"/><path d="M856.5,417.3 C890,411 935,403 971,394.2" fill="none" stroke="#2a2a2a" stroke-width="0.8" stroke-linejoin="round" stroke-linecap="round"/><path d="M854.9,424.8 C890,418 935,410 966.5,400.5" fill="none" stroke="#2a2a2a" stroke-width="0.8" stroke-linejoin="round" stroke-linecap="round"/><path d="M849.9,448 L881.4,442.2 C900,438 930,428 950,418 C960,413 967,409 970,405.9" fill="none" stroke="#2a2a2a" stroke-width="0.8" stroke-linejoin="round" stroke-linecap="round"/><path d="M881.4,443.8 C905,439.5 930,432 952,422 C962,417 968,412 971,408" fill="none" stroke="#2a2a2a" stroke-width="0.7" stroke-linejoin="round" stroke-linecap="round"/><path d="M857.4,455.5 L876.4,453.0" fill="none" stroke="#2a2a2a" stroke-width="0.7" stroke-linejoin="round" stroke-linecap="round"/><path d="M876.4,459.6 L876.4,466.2" fill="none" stroke="#2a2a2a" stroke-width="0.7" stroke-linejoin="round" stroke-linecap="round"/><path d="M878.1,461.3 L911.3,458.0" fill="none" stroke="#2a2a2a" stroke-width="0.8" stroke-linejoin="round" stroke-linecap="round"/><path d="M912.1,443.0 L911.3,458.0" fill="none" stroke="#2a2a2a" stroke-width="0.7" stroke-linejoin="round" stroke-linecap="round"/><path d="M904.6,461.3 L904.6,467 C905,469.5 908,470 909.5,468 L911.3,464.6 L911.3,458" fill="none" stroke="#2a2a2a" stroke-width="0.8" stroke-linejoin="round" stroke-linecap="round"/><path d="M891.4,456.8 C895,455 900,455 903,456.5" fill="none" stroke="#2a2a2a" stroke-width="0.6" stroke-linejoin="round" stroke-linecap="round"/><path d="M909.6,458 C918,455 925,452 930,449.7" fill="none" stroke="#2a2a2a" stroke-width="0.7" stroke-linejoin="round" stroke-linecap="round"/><ellipse cx="861.2" cy="399.5" rx="0.7" ry="1.3" fill="#333" stroke="#2a2a2a" stroke-width="0.6"/><ellipse cx="890.2" cy="395.5" rx="0.7" ry="1.3" fill="#333" stroke="#2a2a2a" stroke-width="0.6"/><ellipse cx="924.5" cy="389.5" rx="0.6" ry="1.1" fill="#333" stroke="#2a2a2a" stroke-width="0.6"/><path d="M839.1,478.7 L853.2,477.8" fill="none" stroke="#2a2a2a" stroke-width="0.6" stroke-linejoin="round" stroke-linecap="round"/><path d="M644.6,385.0 L643.6,410.5" fill="none" stroke="#2a2a2a" stroke-width="0.7" stroke-dasharray="4,2.5" stroke-linejoin="round" stroke-linecap="round"/><path d="M644.6,385.0 L712.0,396.6" fill="none" stroke="#2a2a2a" stroke-width="0.7" stroke-dasharray="4,2.5" stroke-linejoin="round" stroke-linecap="round"/><path d="M762.0,405.2 L841.0,418.9" fill="none" stroke="#2a2a2a" stroke-width="0.7" stroke-dasharray="4,2.5" stroke-linejoin="round" stroke-linecap="round"/><path d="M853.0,421.0 L883.1,426.4" fill="none" stroke="#2a2a2a" stroke-width="0.7" stroke-dasharray="4,2.5" stroke-linejoin="round" stroke-linecap="round"/><path d="M883.9,381.0 L883.1,426.4" fill="none" stroke="#2a2a2a" stroke-width="0.7" stroke-dasharray="6,2,1.5,2" stroke-linejoin="round" stroke-linecap="round"/><path d="M640.5,438.0 L640.5,450.7 L767.7,473.9 L771.8,423.3 L846.5,436.5" fill="none" stroke="#2a2a2a" stroke-width="0.7" stroke-dasharray="4,2.5" stroke-linejoin="round" stroke-linecap="round"/><path d="M846.0,436.4 L880.6,442.2" fill="none" stroke="#2a2a2a" stroke-width="0.7" stroke-dasharray="4,2.5" stroke-linejoin="round" stroke-linecap="round"/><path d="M880.6,442.2 L878.1,488.0" fill="none" stroke="#2a2a2a" stroke-width="0.7" stroke-dasharray="6,2,1.5,2" stroke-linejoin="round" stroke-linecap="round"/><path d="M878.1,496.0 L878.0,500.0" fill="none" stroke="#2a2a2a" stroke-width="0.6" stroke-linejoin="round" stroke-linecap="round"/><path d="M812.5,357.1 L942.0,379.7" fill="none" stroke="#2a2a2a" stroke-width="0.7" stroke-dasharray="4,2.5" stroke-linejoin="round" stroke-linecap="round"/><path d="M810.4,389.0 L810.4,395.7 L841.5,400.6" fill="none" stroke="#2a2a2a" stroke-width="0.7" stroke-dasharray="4,2.5" stroke-linejoin="round" stroke-linecap="round"/><path d="M883.7,354.1 L883.7,379.7 L889.1,379.7 L889.1,354.1" fill="#fff" stroke="#2a2a2a" stroke-width="0.9" stroke-linejoin="round" stroke-linecap="round"/><path d="M882.6,351.3 L882.6,354.1 L885.1,354.9 L887.7,354.9 L890.2,354.1 L890.2,351.3" fill="#fff" stroke="#2a2a2a" stroke-width="1.0" stroke-linejoin="round" stroke-linecap="round"/><ellipse cx="886.4" cy="351.3" rx="3.8" ry="1.4" fill="#fff" stroke="#2a2a2a" stroke-width="1.0"/><path d="M885.1,352.1 L885.1,354.9" fill="none" stroke="#2a2a2a" stroke-width="0.6" stroke-linejoin="round" stroke-linecap="round"/><path d="M887.7,352.1 L887.7,354.9" fill="none" stroke="#2a2a2a" stroke-width="0.6" stroke-linejoin="round" stroke-linecap="round"/><path d="M883.7,369.9 L889.1,369.9" fill="none" stroke="#2a2a2a" stroke-width="0.7" stroke-linejoin="round" stroke-linecap="round"/><path d="M885.2,369.9 L885.2,379.7" fill="none" stroke="#888" stroke-width="0.4" stroke-linejoin="round" stroke-linecap="round"/><path d="M887.6,369.9 L887.6,379.7" fill="none" stroke="#888" stroke-width="0.4" stroke-linejoin="round" stroke-linecap="round"/><path d="M885.2,355.1 L885.2,369.9" fill="none" stroke="#999" stroke-width="0.4" stroke-linejoin="round" stroke-linecap="round"/><path d="M962.7,338.0 L962.7,363.6 L967.5,363.6 L967.5,338.0" fill="#fff" stroke="#2a2a2a" stroke-width="0.9" stroke-linejoin="round" stroke-linecap="round"/><path d="M961.5,335.2 L961.5,338.0 L963.8,338.8 L966.4,338.8 L968.7,338.0 L968.7,335.2" fill="#fff" stroke="#2a2a2a" stroke-width="1.0" stroke-linejoin="round" stroke-linecap="round"/><ellipse cx="965.1" cy="335.2" rx="3.6" ry="1.4" fill="#fff" stroke="#2a2a2a" stroke-width="1.0"/><path d="M963.8,336.0 L963.8,338.8" fill="none" stroke="#2a2a2a" stroke-width="0.6" stroke-linejoin="round" stroke-linecap="round"/><path d="M966.4,336.0 L966.4,338.8" fill="none" stroke="#2a2a2a" stroke-width="0.6" stroke-linejoin="round" stroke-linecap="round"/><path d="M962.7,352.8 L967.5,352.8" fill="none" stroke="#2a2a2a" stroke-width="0.7" stroke-linejoin="round" stroke-linecap="round"/><path d="M964.0,352.8 L964.0,363.6" fill="none" stroke="#888" stroke-width="0.4" stroke-linejoin="round" stroke-linecap="round"/><path d="M966.2,352.8 L966.2,363.6" fill="none" stroke="#888" stroke-width="0.4" stroke-linejoin="round" stroke-linecap="round"/><path d="M964.0,339.0 L964.0,352.8" fill="none" stroke="#999" stroke-width="0.4" stroke-linejoin="round" stroke-linecap="round"/><path d="M964.8,363.6 L962.7,382.5" fill="none" stroke="#2a2a2a" stroke-width="0.6" stroke-linejoin="round" stroke-linecap="round"/><ellipse cx="962.7" cy="383.3" rx="2.2" ry="0.8" fill="#333" stroke="#2a2a2a" stroke-width="0.7"/><ellipse cx="883.1" cy="410.7" rx="2.0" ry="0.7" fill="#333" stroke="#2a2a2a" stroke-width="0.8"/><path d="M958.2,432.0 L958.2,459.0" fill="none" stroke="#2a2a2a" stroke-width="0.6" stroke-linejoin="round" stroke-linecap="round"/><path d="M961.8,450.0 L960.0,452.5 L956.4,452.5 L954.6,450.0 L956.4,447.5 L960.0,447.5 L961.8,450.0" fill="#fff" stroke="#2a2a2a" stroke-width="1.2" stroke-linejoin="round" stroke-linecap="round"/><ellipse cx="958.2" cy="450.0" rx="1.8" ry="1.4" fill="#fff" stroke="#2a2a2a" stroke-width="0.9"/><path d="M881.7,491.9 L879.9,494.4 L876.3,494.4 L874.5,491.9 L876.3,489.4 L879.9,489.4 L881.7,491.9" fill="#fff" stroke="#2a2a2a" stroke-width="1.2" stroke-linejoin="round" stroke-linecap="round"/><ellipse cx="878.1" cy="491.9" rx="1.8" ry="1.4" fill="#fff" stroke="#2a2a2a" stroke-width="0.9"/></svg>
<div class="t" style="top:36.09px;font-size:14.46px;line-height:14.46px;font-weight:bold;left:-32.70px;width:600px;text-align:center;">INSTRUKCJA</div>
<div class="t" style="top:53.49px;font-size:14.58px;line-height:14.58px;font-weight:bold;left:-32.80px;width:600px;text-align:center;">montażu i eksploatacji haka holowniczego</div>
<div class="t" style="top:456.32px;font-size:13.35px;line-height:13.35px;left:88.00px;width:401.50px;text-align:justify;text-align-last:justify;">Hak holowniczy przeznaczony jest do zamontowania w samochodzie:</div>
<div class="t" style="top:472.02px;font-size:13.35px;line-height:13.35px;left:45.00px;width:444.50px;text-align:justify;text-align-last:justify;"><b>AUDI A4 SEDAN</b>, produkowanym od 11.2000r. do 2005r. oraz <b>AUDI A4</b></div>
<div class="t" style="top:486.92px;font-size:13.35px;line-height:13.35px;left:45.00px;width:444.50px;text-align:justify;text-align-last:justify;"><b>AVANT</b>, produkowanym od 06.2001r. do 11.2004r., nr katalogowy <b>A18</b> i służy</div>
<div class="t" style="top:502.22px;font-size:13.35px;line-height:13.35px;left:45.00px;">do ciągnięcia przyczep o masie całkowitej <b>2000 kg</b> i nacisku na kulę max <b>80 kg</b>.</div>
<div class="t" style="top:548.52px;font-size:13.35px;line-height:13.35px;font-weight:bold;left:-33.10px;width:600px;text-align:center;">OD PRODUCENTA</div>
<div class="t" style="top:569.35px;font-size:12px;line-height:12px;left:45.00px;width:444.75px;text-align:justify;text-align-last:justify;">Dziękujemy za wybór produkowanego przez naszą firmę haka holowniczego. Jego</div>
<div class="t" style="top:583.25px;font-size:12px;line-height:12px;left:45.00px;width:444.75px;text-align:justify;text-align-last:justify;">niezawodność została potwierdzona licznymi testami oraz opiniami zadowolonych</div>
<div class="t" style="top:596.95px;font-size:12px;line-height:12px;left:45.00px;width:444.75px;text-align:justify;text-align-last:justify;">klientów. Jednakże niezawodność haków holowniczych jest zależna również od</div>
<div class="t" style="top:611.35px;font-size:12px;line-height:12px;left:45.00px;width:444.75px;text-align:justify;text-align-last:justify;">prawidłowego montażu oraz prawidłowej eksploatacji. Z tego powodu prosimy Państwa</div>
<div class="t" style="top:625.25px;font-size:12px;line-height:12px;left:45.00px;width:444.75px;text-align:justify;text-align-last:justify;"><span style="display:inline-block;text-align-last:auto">o staranne</span> przeczytanie niniejszej instrukcji montażu oraz przestrzeganie zawartych</div>
<div class="t" style="top:639.25px;font-size:12px;line-height:12px;left:45.00px;">wskazówek.</div>
<div class="t" style="top:658.92px;font-size:13.35px;line-height:13.35px;font-style:italic;left:45.00px;width:444.75px;text-align:justify;text-align-last:justify;">Hak należy zamontować w miejscach do tego celu przeznaczonych przez</div>
<div class="t" style="top:674.32px;font-size:13.35px;line-height:13.35px;font-style:italic;left:45.00px;">producenta samochodu.</div>
<div class="t" style="top:36.19px;font-size:14.46px;line-height:14.46px;font-weight:bold;left:455.50px;width:600px;text-align:center;">Kolejność czynności przy montażu</div>
<div class="t" style="top:57.92px;font-size:13.35px;line-height:13.35px;left:555.25px;">1.</div>
<div class="t" style="top:57.92px;font-size:13.35px;line-height:13.35px;left:577.00px;width:401.25px;text-align:justify;text-align-last:justify;">Zdemontować zderzak oraz metalowe wzmocnienie, od wzmocnienia</div>
<div class="t" style="top:73.07px;font-size:13.35px;line-height:13.35px;left:577.00px;">odkręcić jego uchwyty (nie będą ponownie montowane).</div>
<div class="t" style="top:88.27px;font-size:13.35px;line-height:13.35px;left:555.25px;">2.</div>
<div class="t" style="top:88.27px;font-size:13.35px;line-height:13.35px;left:577.00px;width:401.25px;text-align:justify;text-align-last:justify;">Przykręcić metalowe wzmocnienie zderzaka do belki głównej haka przez</div>
<div class="t" style="top:103.62px;font-size:13.35px;line-height:13.35px;left:577.00px;">otwory B używając oryginalnych śrub, jak pokazano na rys. 2.</div>
<div class="t" style="top:118.92px;font-size:13.35px;line-height:13.35px;left:555.25px;">3.</div>
<div class="t" style="top:118.92px;font-size:13.35px;line-height:13.35px;left:577.00px;width:401.25px;text-align:justify;text-align-last:justify;">W podłużnice wsunąć belkę haka (poz. 1) wraz z przykręconym</div>
<div class="t" style="top:134.22px;font-size:13.35px;line-height:13.35px;left:577.00px;width:401.25px;text-align:justify;text-align-last:justify;">wzmocnieniem i ustawić ją tak, aby otwory (poz. A) pokryły się z</div>
<div class="t" style="top:149.32px;font-size:13.35px;line-height:13.35px;left:577.00px;width:401.25px;text-align:justify;text-align-last:justify;">istniejącymi otworami w podłużnicach i przykręcić śrubami M10x100mm</div>
<div class="t" style="top:164.82px;font-size:13.35px;line-height:13.35px;left:577.00px;">(poz. 6) jak pokazano na rys.1.</div>
<div class="t" style="top:180.42px;font-size:13.35px;line-height:13.35px;left:555.25px;">4.</div>
<div class="t" style="top:180.42px;font-size:13.35px;line-height:13.35px;left:577.00px;width:401.25px;text-align:justify;text-align-last:justify;">Zamontować zderzak po uprzednim wycięciu w dolnej jego części, w osi,</div>
<div class="t" style="top:196.02px;font-size:13.35px;line-height:13.35px;left:577.00px;">fragmentu o szerokości 50mm i głębokości 40mm.</div>
<div class="t" style="top:211.52px;font-size:13.35px;line-height:13.35px;left:555.25px;">5.</div>
<div class="t" style="top:211.52px;font-size:13.35px;line-height:13.35px;left:577.00px;width:401.25px;text-align:justify;text-align-last:justify;">Przykręcić część kulistą haka (poz. 2) śrubami M12x70mm (poz. 5) z</div>
<div class="t" style="top:226.72px;font-size:13.35px;line-height:13.35px;left:577.00px;">wyposażenia.</div>
<div class="t" style="top:242.12px;font-size:13.35px;line-height:13.35px;left:555.25px;">6.</div>
<div class="t" style="top:242.12px;font-size:13.35px;line-height:13.35px;left:577.00px;">Przykręcić blachę pod gniazdo (poz. 3) zgodnie z rys. 1.</div>
<div class="t" style="top:257.62px;font-size:13.35px;line-height:13.35px;left:555.25px;">7.</div>
<div class="t" style="top:257.62px;font-size:13.35px;line-height:13.35px;left:577.00px;">Dokręcić wszystkie śruby z momentem, jak pokazano w tabeli.</div>
<div class="t" style="top:272.82px;font-size:13.35px;line-height:13.35px;left:555.25px;">8.</div>
<div class="t" style="top:272.82px;font-size:13.35px;line-height:13.35px;left:577.00px;width:401.25px;text-align:justify;text-align-last:justify;">Podłączyć przewody z gniazdka 7 - bieg. do instalacji elektrycznej</div>
<div class="t" style="top:288.42px;font-size:13.35px;line-height:13.35px;left:577.00px;width:401.25px;text-align:justify;text-align-last:justify;">zgodnie z instrukcją fabryczną samochodu (zaleca się wykonanie w ASO).</div>
<div class="t" style="top:303.62px;font-size:13.35px;line-height:13.35px;left:555.25px;">9.</div>
<div class="t" style="top:303.62px;font-size:13.35px;line-height:13.35px;left:577.00px;width:401.25px;text-align:justify;text-align-last:justify;">Uzupełnić ewentualne ubytki powłoki malarskiej haka powstałe w trakcie</div>
<div class="t" style="top:319.52px;font-size:13.35px;line-height:13.35px;left:577.00px;">montażu.</div>
<div style="position:absolute;left:614.9px;top:505.5px;width:301.2px;height:62.1px;border:1.5px solid #222;border-bottom-width:2.2px;box-sizing:border-box"></div>
<div class="t" style="top:511.52px;font-size:13.35px;line-height:13.35px;left:464.80px;width:600px;text-align:center;">Zalecany moment skręcający dla śrub i nakrętek 8,8:</div>
<div class="t" style="top:527.12px;font-size:13.35px;line-height:13.35px;left:597.80px;width:200px;text-align:center;"><b>M 8</b> - 25 Nm</div>
<div class="t" style="top:527.12px;font-size:13.35px;line-height:13.35px;left:730.20px;width:200px;text-align:center;"><b>M 10</b> - 55 Nm</div>
<div class="t" style="top:542.12px;font-size:13.35px;line-height:13.35px;left:597.70px;width:200px;text-align:center;"><b>M 12</b> - 85 Nm</div>
<div class="t" style="top:542.12px;font-size:13.35px;line-height:13.35px;left:730.30px;width:200px;text-align:center;"><b>M 14</b> - 135 Nm</div>
<div class="t" style="top:571.09px;font-size:14.46px;line-height:14.46px;font-weight:bold;left:455.70px;width:600px;text-align:center;">UWAGA</div>
<div class="t" style="top:592.01px;font-size:12.05px;line-height:12.05px;left:533.25px;width:444.45px;text-align:justify;text-align-last:justify;">Po&nbsp; zamontowaniu haka holowniczego należy uzyskać wpis w dowodzie rejestracyjnym</div>
<div class="t" style="top:605.94px;font-size:12.05px;line-height:12.05px;left:533.25px;">pojazdu na „stacji kontroli pojazdów” właściwej dla miejsca zamieszkania.</div>
<div class="t" style="top:619.87px;font-size:12.05px;line-height:12.05px;left:533.25px;">Samochód powinien być wyposażony w :</div>
<div class="t" style="top:633.80px;font-size:12.05px;line-height:12.05px;left:533.25px;">-kierunkowskazy boczne</div>
<div class="t" style="top:647.73px;font-size:12.05px;line-height:12.05px;left:533.25px;">-lusterka boczne&nbsp; o rozstawie co najmniej szerokości przyczepy</div>
<div class="t" style="top:661.66px;font-size:12.05px;line-height:12.05px;left:533.25px;">Sprawdzać śruby mocujące haka holowniczego po około 1 000 km przebiegu eksploatacji.</div>
<div class="t" style="top:675.59px;font-size:12.05px;line-height:12.05px;left:533.25px;">Kula haka musi być utrzymana w czystości i konserwowana smarem stałym.</div>
<div class="t" style="top:433.32px;font-size:13.35px;line-height:13.35px;left:319.00px;width:100px;text-align:center;">Rys.1</div>
<div class="t" style="top:483.02px;font-size:13.35px;line-height:13.35px;left:577.00px;width:100px;text-align:center;">Rys.2</div>
<svg class="abs" width="1024" height="724" viewBox="0 0 1024 724"><line x1="45.2" y1="76.3" x2="232.4" y2="76.3" stroke="#333" stroke-width="1.4"/><line x1="45.2" y1="179.8" x2="232.4" y2="179.8" stroke="#333" stroke-width="1.2"/><line x1="45.2" y1="76.3" x2="45.2" y2="179.8" stroke="#333" stroke-width="1.4"/><line x1="232.4" y1="76.3" x2="232.4" y2="179.8" stroke="#333" stroke-width="1.2"/><line x1="68.6" y1="95.9" x2="68.6" y2="179.8" stroke="#333" stroke-width="1.0"/><line x1="102.8" y1="76.3" x2="102.8" y2="179.8" stroke="#333" stroke-width="1.4"/><line x1="45.2" y1="95.9" x2="102.8" y2="95.9" stroke="#333" stroke-width="1.0"/><line x1="45.2" y1="107.3" x2="232.4" y2="107.3" stroke="#333" stroke-width="1.0"/><line x1="45.2" y1="117.6" x2="232.4" y2="117.6" stroke="#333" stroke-width="1.0"/><line x1="45.2" y1="127.9" x2="232.4" y2="127.9" stroke="#333" stroke-width="1.0"/><line x1="45.2" y1="138.3" x2="232.4" y2="138.3" stroke="#333" stroke-width="1.0"/><line x1="45.2" y1="148.6" x2="232.4" y2="148.6" stroke="#333" stroke-width="1.0"/><line x1="45.2" y1="158.9" x2="232.4" y2="158.9" stroke="#333" stroke-width="1.0"/><line x1="45.2" y1="169.2" x2="232.4" y2="169.2" stroke="#333" stroke-width="1.0"/></svg>
<div class="t" style="top:78.31px;font-size:8.35px;line-height:8.35px;font-weight:bold;left:44.00px;width:60px;text-align:center;">Oznaczenie</div>
<div class="t" style="top:87.61px;font-size:8.35px;line-height:8.35px;font-weight:bold;left:44.00px;width:60px;text-align:center;">zacisku wg</div>
<div class="t" style="top:98.91px;font-size:8.35px;line-height:8.35px;font-weight:bold;left:41.90px;width:30px;text-align:center;">ISO</div>
<div class="t" style="top:98.91px;font-size:8.35px;line-height:8.35px;font-weight:bold;left:70.70px;width:30px;text-align:center;">PN</div>
<div class="t" style="top:87.71px;font-size:8.35px;line-height:8.35px;font-weight:bold;left:105.00px;width:130px;text-align:center;">Łączenie przewodów</div>
<div class="t" style="top:109.01px;font-size:8.35px;line-height:8.35px;left:41.90px;width:30px;text-align:center;">1</div>
<div class="t" style="top:109.01px;font-size:8.35px;line-height:8.35px;left:70.70px;width:30px;text-align:center;">L</div>
<div class="t" style="top:109.01px;font-size:8.35px;line-height:8.35px;left:107.60px;">Do świateł kierunku jazdy lewych</div>
<div class="t" style="top:119.31px;font-size:8.35px;line-height:8.35px;left:41.90px;width:30px;text-align:center;">2</div>
<div class="t" style="top:119.31px;font-size:8.35px;line-height:8.35px;left:70.70px;width:30px;text-align:center;">+</div>
<div class="t" style="top:119.31px;font-size:8.35px;line-height:8.35px;left:107.60px;">Tylne światła przeciwmgłowe</div>
<div class="t" style="top:129.61px;font-size:8.35px;line-height:8.35px;left:41.90px;width:30px;text-align:center;">3</div>
<div class="t" style="top:129.61px;font-size:8.35px;line-height:8.35px;left:70.70px;width:30px;text-align:center;">31</div>
<div class="t" style="top:129.61px;font-size:8.35px;line-height:8.35px;left:107.60px;">Do masy pojazdu</div>
<div class="t" style="top:140.01px;font-size:8.35px;line-height:8.35px;left:41.90px;width:30px;text-align:center;">4</div>
<div class="t" style="top:140.01px;font-size:8.35px;line-height:8.35px;left:70.70px;width:30px;text-align:center;">R</div>
<div class="t" style="top:140.01px;font-size:8.35px;line-height:8.35px;left:107.60px;">Do świateł kierunku jazdy prawych</div>
<div class="t" style="top:150.31px;font-size:8.35px;line-height:8.35px;left:41.90px;width:30px;text-align:center;">5</div>
<div class="t" style="top:150.31px;font-size:8.35px;line-height:8.35px;left:70.70px;width:30px;text-align:center;">58R</div>
<div class="t" style="top:150.31px;font-size:8.35px;line-height:8.35px;left:107.60px;">Do świateł pozycyjnych prawych</div>
<div class="t" style="top:160.61px;font-size:8.35px;line-height:8.35px;left:41.90px;width:30px;text-align:center;">6</div>
<div class="t" style="top:160.61px;font-size:8.35px;line-height:8.35px;left:70.70px;width:30px;text-align:center;">54</div>
<div class="t" style="top:160.61px;font-size:8.35px;line-height:8.35px;left:107.60px;">Do świateł hamowania</div>
<div class="t" style="top:170.91px;font-size:8.35px;line-height:8.35px;left:41.90px;width:30px;text-align:center;">7</div>
<div class="t" style="top:170.91px;font-size:8.35px;line-height:8.35px;left:70.70px;width:30px;text-align:center;">58L</div>
<div class="t" style="top:170.91px;font-size:8.35px;line-height:8.35px;left:107.60px;">Do świateł pozycyjnych lewych</div>
</body></html>
